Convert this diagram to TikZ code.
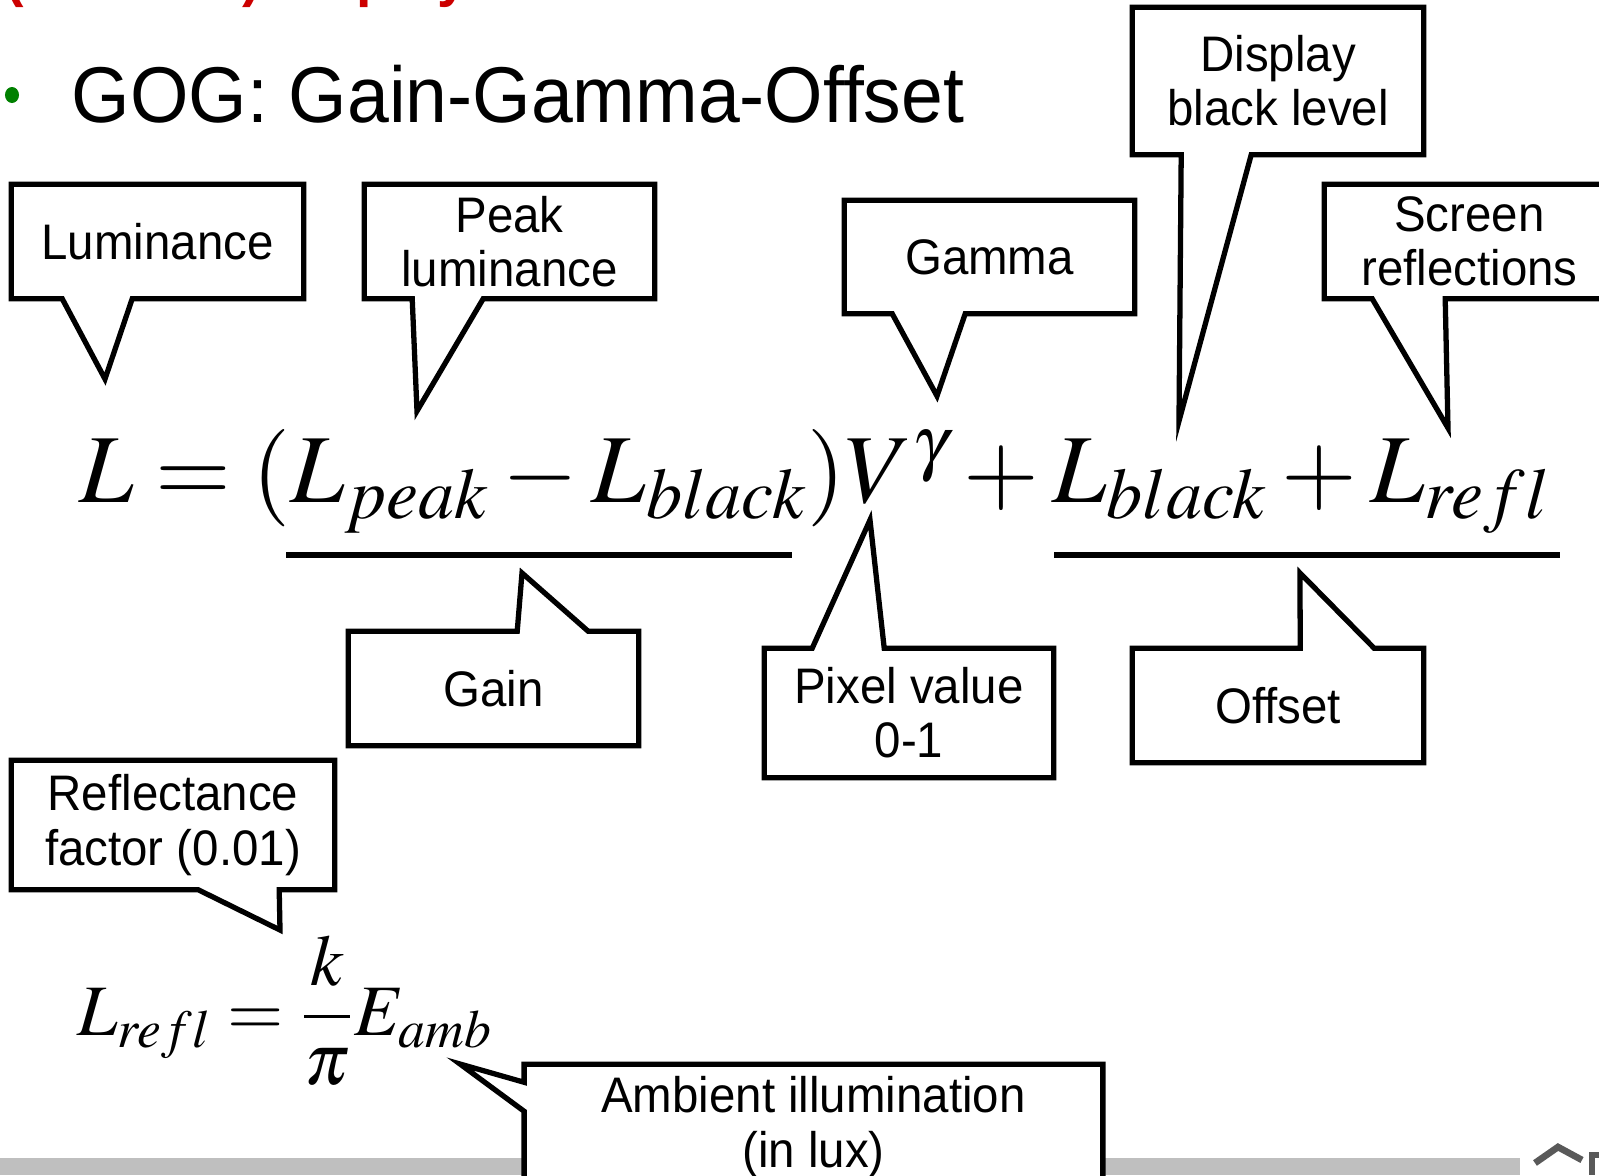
\documentclass[tikz,border=0pt]{standalone}
\usepackage{amsmath}
\usepackage{mathptmx}
\usepackage[no-math]{fontspec}
\setmainfont{Liberation Sans}[FakeStretch=0.95]
\usepackage{xcolor}
\usepackage{tikz}
\usetikzlibrary{calc,backgrounds}

\definecolor{headred}{RGB}{204,0,0}
\definecolor{dotgreen}{RGB}{0,128,0}
\newcommand{\lblfont}{\fontsize{14.2}{15.4}\selectfont}
\newcommand{\titlefont}{\fontsize{22.5}{26}\selectfont}
\newcommand{\headfont}{\fontsize{16.6}{20}\selectfont\bfseries}
\newcommand{\eqfont}{\fontsize{27.7}{32}\selectfont}
\newcommand{\eqsmall}{\fontsize{20.6}{24}\selectfont}

\begin{document}
\begin{tikzpicture}[
  x=0.01cm, y=-0.01cm,
  box/.style={inner sep=0pt, align=center, font=\lblfont},
  callout/.style={draw, line width=1.5pt, fill=white, line join=miter},
  uline/.style={line width=1.7pt},
]
\useasboundingbox (0,0) rectangle (1599,1175);
\clip (0,0) rectangle (1599,1175);

% heading and bullet
\node[anchor=base west, inner sep=0pt, font=\headfont, text=headred] (head) at (5,-5) {(Forward) display model};
\fill[dotgreen] (12,95) ellipse (0.07cm and 0.08cm);
\node[anchor=base west, inner sep=0pt, font=\titlefont] (title) at (71,122) {GOG: Gain-Gamma-Offset};

% the two formulas
\node[anchor=base, inner sep=0pt, font=\eqfont] (gog) at (815,502)
  {$L=(L_{peak}-L_{black})V^{\gamma}+L_{black}+L_{refl}$};
\node[anchor=base, inner sep=0pt, font=\eqsmall] (lrefl) at (285,1035)
  {$L_{refl}=\dfrac{k}{\pi}E_{amb}$};

\draw[uline] (286,555) -- (792,555);
\draw[uline] (1054,555) -- (1560,555);

% labels
\node[box, minimum width=2.91cm, minimum height=1.13cm] (lum) at (157.5,241.5) {Luminance};
\node[box, minimum width=2.89cm, minimum height=1.13cm] (peak) at (509.5,241.5) {Peak\\luminance};
\node[box, minimum width=2.89cm, minimum height=1.12cm] (gam) at (989.5,257) {Gamma};
\node[box, minimum width=2.90cm, minimum height=1.46cm] (disp) at (1278,81) {Display\\black level};
\node[box, minimum width=2.89cm, minimum height=1.13cm] (scr) at (1469.5,241.5) {Screen\\reflections};
\node[box, minimum width=2.89cm, minimum height=1.13cm] (gain) at (493.5,688.5) {Gain};
\node[box, minimum width=2.88cm, minimum height=1.28cm] (pix) at (909,713) {Pixel value\\0-1};
\node[box, minimum width=2.90cm, minimum height=1.13cm] (offs) at (1278,705.5) {Offset};
\node[box, minimum width=3.22cm, minimum height=1.28cm] (refl) at (173,825) {Reflectance\\factor (0.01)};
\node[box, minimum width=5.77cm, minimum height=1.24cm] (amb) at (813.5,1127) {Ambient illumination\\(in lux)};

% pointer tips
\coordinate (lum-tip) at (105,379);
\coordinate (peak-tip) at (417,411);
\coordinate (gam-tip) at (937,396);
\coordinate (disp-tip) at (1179,421);
\coordinate (scr-tip) at (1448,428);
\coordinate (gain-tip) at (522,573);
\coordinate (pix-tip) at (870,520);
\coordinate (offs-tip) at (1300,573);
\coordinate (refl-tip) at (280,930);
\coordinate (amb-tip) at (460,1064);

\begin{scope}[on background layer]
\fill[white] (0,0) rectangle (1599,1175);
% slide footer
\fill[gray!50] (0,1158) rectangle (1520,1175);
\draw[gray!70!black, line width=1.9pt] (1535,1163) -- (1558,1147) -- (1582,1160);
\draw[gray!70!black, line width=1.6pt] (1599,1155) -- (1592,1155) -- (1592,1175);

\draw[callout] (lum.north west) -- (lum.north east) -- (lum.south east) -- ($(lum.south west)+(121,0)$)
  -- (lum-tip) -- ($(lum.south west)+(51,0)$) -- (lum.south west) -- cycle;
\draw[callout] (peak.north west) -- (peak.north east) -- (peak.south east) -- ($(peak.south west)+(119,0)$)
  -- (peak-tip) -- ($(peak.south west)+(48,0)$) -- (peak.south west) -- cycle;
\draw[callout] (gam.north west) -- (gam.north east) -- (gam.south east) -- ($(gam.south west)+(121,0)$)
  -- (gam-tip) -- ($(gam.south west)+(48,0)$) -- (gam.south west) -- cycle;
\draw[callout] (disp.north west) -- (disp.north east) -- (disp.south east) -- ($(disp.south west)+(119,0)$)
  -- (disp-tip) -- ($(disp.south west)+(49,0)$) -- (disp.south west) -- cycle;
\draw[callout] (scr.north west) -- (scr.north east) -- (scr.south east) -- ($(scr.south west)+(121,0)$)
  -- (scr-tip) -- ($(scr.south west)+(48,0)$) -- (scr.south west) -- cycle;
\draw[callout] (gain.south west) -- (gain.south east) -- (gain.north east) -- ($(gain.north west)+(240,0)$)
  -- (gain-tip) -- ($(gain.north west)+(169,0)$) -- (gain.north west) -- cycle;
\draw[callout] (pix.south west) -- (pix.south east) -- (pix.north east) -- ($(pix.north west)+(120,0)$)
  -- (pix-tip) -- ($(pix.north west)+(48,0)$) -- (pix.north west) -- cycle;
\draw[callout] (offs.south west) -- (offs.south east) -- (offs.north east) -- ($(offs.north west)+(242,0)$)
  -- (offs-tip) -- ($(offs.north west)+(168,0)$) -- (offs.north west) -- cycle;
\draw[callout] (refl.north west) -- (refl.north east) -- (refl.south east) -- ($(refl.south west)+(268,0)$)
  -- (refl-tip) -- ($(refl.south west)+(187,0)$) -- (refl.south west) -- cycle;
\draw[callout] (amb.north west) -- (amb.north east) -- (amb.south east) -- (amb.south west)
  -- ($(amb.north west)+(0,47)$) -- (amb-tip) -- ($(amb.north west)+(0,18)$) -- cycle;
\end{scope}
\end{tikzpicture}
\end{document}
